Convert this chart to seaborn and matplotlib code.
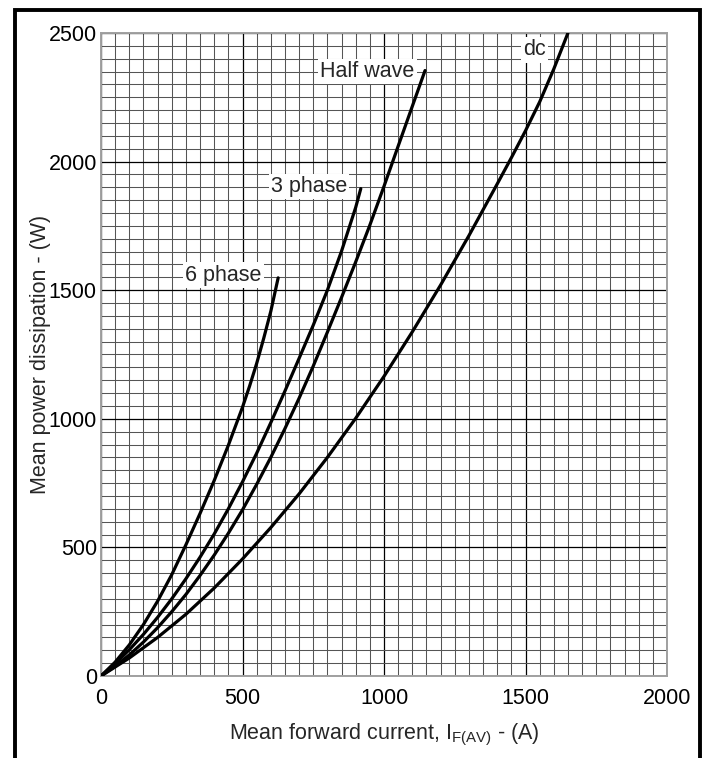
import matplotlib
matplotlib.use("Agg")
import matplotlib.pyplot as plt
from matplotlib.ticker import MultipleLocator
from matplotlib.patches import Rectangle
import seaborn as sns
import pandas as pd

# ---- data ----
i_6phase = [0, 50, 100, 150, 200, 250, 300, 350, 400, 450, 500, 525, 550, 575,
            600, 612, 626]
p_6phase = [0, 54, 121, 200, 291, 394, 510, 632, 760, 897, 1045, 1127, 1215,
            1313, 1418, 1478, 1548]

i_3phase = [0, 50, 100, 150, 200, 250, 300, 350, 400, 450, 500, 550, 600, 650,
            700, 750, 800, 850, 900, 918]
p_3phase = [0, 48, 102, 162, 228, 300, 378, 462, 552, 650, 755, 866, 985, 1108,
            1235, 1364, 1500, 1652, 1822, 1895]

i_half = [0, 50, 100, 150, 200, 250, 300, 350, 400, 450, 500, 550, 600, 650,
          700, 750, 800, 850, 900, 950, 1000, 1050, 1100, 1145]
p_half = [0, 38, 82, 132, 188, 250, 317, 391, 470, 555, 646, 745, 850, 962,
          1080, 1205, 1337, 1472, 1610, 1753, 1904, 2060, 2215, 2354]

i_dc = [0, 100, 200, 300, 400, 500, 600, 700, 800, 900, 1000, 1100, 1200,
        1300, 1400, 1450, 1500, 1550, 1600, 1650]
p_dc = [0, 70, 150, 240, 342, 455, 577, 708, 850, 1002, 1165, 1338, 1520,
        1712, 1913, 2015, 2120, 2232, 2360, 2500]

series_names = ["6 phase", "3 phase", "Half wave", "dc"]
x_ticks = [0, 500, 1000, 1500, 2000]
y_ticks = [0, 500, 1000, 1500, 2000, 2500]

frames = []
for name, xs, ys in zip(series_names,
                        [i_6phase, i_3phase, i_half, i_dc],
                        [p_6phase, p_3phase, p_half, p_dc]):
    frames.append(pd.DataFrame({"I": xs, "P": ys, "curve": name}))
df = pd.concat(frames, ignore_index=True)

# ---- styling ----
sns.set_theme(style="white")
plt.rcParams["font.family"] = ["Liberation Sans", "DejaVu Sans"]
plt.rcParams["mathtext.fontset"] = "custom"
plt.rcParams["mathtext.rm"] = "Liberation Sans"

fig = plt.figure(figsize=(7.05, 7.58), dpi=100)
ax = fig.add_axes([101 / 705, 1 - 676 / 758, 566 / 705, 643 / 758])

ax.set_axisbelow(True)
ax.xaxis.set_minor_locator(MultipleLocator(50))
ax.yaxis.set_minor_locator(MultipleLocator(50))
ax.set_xticks(x_ticks)
ax.set_yticks(y_ticks)
ax.grid(which="minor", color="#555555", linewidth=0.75)
ax.grid(which="major", color="#000000", linewidth=0.9)

sns.lineplot(data=df, x="I", y="P", hue="curve", units="curve",
             estimator=None, sort=False, legend=False,
             palette={n: "black" for n in series_names},
             linewidth=2.3, ax=ax, zorder=3)

ax.set_xlim(0, 2000)
ax.set_ylim(0, 2500)
ax.tick_params(axis="both", which="both", length=0, labelsize=15.5,
               colors="black")
ax.tick_params(axis="x", pad=9)
ax.tick_params(axis="y", pad=3)
for s in ax.spines.values():
    s.set_color("#a0a0a0")
    s.set_linewidth(1.4)

ax.set_xlabel(r"Mean forward current, I$\mathregular{_{F(AV)}}$ - (A)",
              fontsize=15.5, labelpad=9)
ax.set_ylabel("Mean power dissipation - (W)", fontsize=15.5)
ax.yaxis.label.set_va("center")
ax.yaxis.set_label_coords((40 - 101) / 566, 0.5)

box = dict(facecolor="white", edgecolor="none", pad=1.5)
ax.text(1108, 2350, "Half wave", ha="right", va="center", fontsize=15.5,
        bbox=box, zorder=4)
ax.text(870, 1902, "3 phase", ha="right", va="center", fontsize=15.5,
        bbox=box, zorder=4)
ax.text(568, 1559, "6 phase", ha="right", va="center", fontsize=15.5,
        bbox=box, zorder=4)
ax.text(1531, 2434, "dc", ha="center", va="center", fontsize=15.5,
        bbox=box, zorder=4)

# outer frame
fig.patches.append(Rectangle((14.7 / 705, -0.02), (700.3 - 14.7) / 705,
                             1.02 - 9.7 / 758, transform=fig.transFigure,
                             fill=False, edgecolor="black", linewidth=2.8))

fig.savefig("out.png", dpi=100)
